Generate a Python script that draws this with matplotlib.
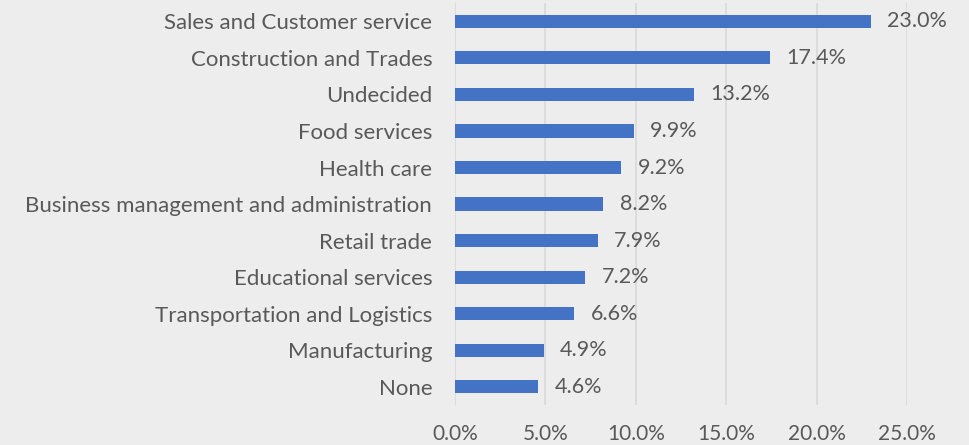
import matplotlib.pyplot as plt

categories = [
    "Sales and Customer service",
    "Construction and Trades",
    "Undecided",
    "Food services",
    "Health care",
    "Business management and administration",
    "Retail trade",
    "Educational services",
    "Transportation and Logistics",
    "Manufacturing",
    "None",
]
shares = [23.0, 17.4, 13.2, 9.9, 9.2, 8.2, 7.9, 7.2, 6.6, 4.9, 4.6]
x_ticks = [0, 5, 10, 15, 20, 25]

bg = "#EDEDED"
text_color = "#595959"

plt.rcParams["font.family"] = ["Lato", "DejaVu Sans"]

fig = plt.figure(figsize=(9.69, 4.45), dpi=100, facecolor=bg)
ax = fig.add_axes([0.4696, 0.09, 0.4665, 0.903])
ax.set_facecolor(bg)

y = list(range(len(categories)))[::-1]
ax.barh(y, shares, height=0.36, color="#4472C4", zorder=3)

for yi, v in zip(y, shares):
    ax.text(v + 0.9, yi, f"{v:.1f}%", va="center", ha="left",
            fontsize=15.5, color=text_color)

ax.set_xlim(0, 25)
ax.set_ylim(-0.5, len(categories) - 0.5)
ax.set_yticks(y)
ax.set_yticklabels(categories, fontsize=16, color=text_color)
ax.set_xticks(x_ticks)
ax.set_xticklabels([f"{t:.1f}%" for t in x_ticks], fontsize=15, color=text_color)
ax.tick_params(axis="both", length=0)
ax.tick_params(axis="x", pad=14)
ax.tick_params(axis="y", pad=16.5)

ax.grid(axis="x", color="#D9D9D9", linewidth=1.2, zorder=0)
for s in ax.spines.values():
    s.set_visible(False)

fig.savefig("out.png", dpi=100, facecolor=bg)
